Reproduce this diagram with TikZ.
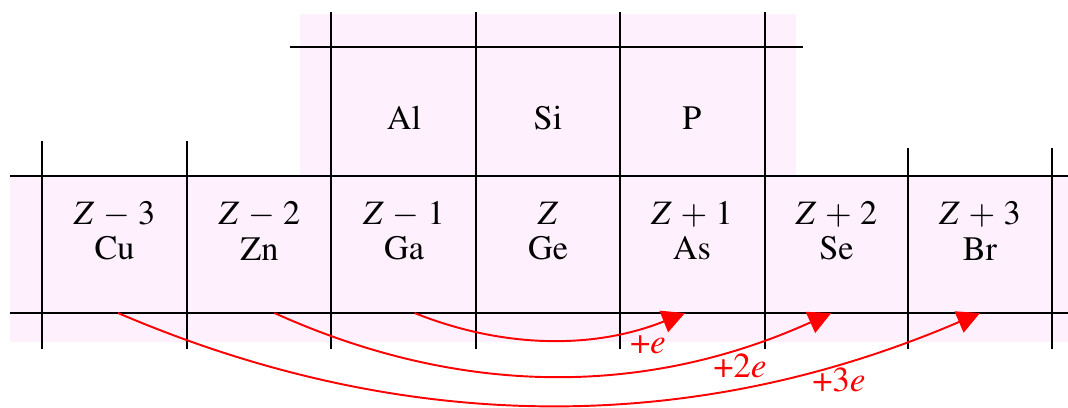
\documentclass[tikz,border=0pt]{standalone}
\usepackage[T1]{fontenc}
\usepackage{mathptmx}
\usetikzlibrary{arrows.meta}
\definecolor{cellpink}{RGB}{254,240,252}

\begin{document}
\begin{tikzpicture}[x=0.02cm, y=-0.02cm,
    grid/.style={line width=1.1pt, black},
    elem/.style={align=center, font=\fontsize{19.5}{20}\selectfont, inner sep=0pt},
    transfer/.style={red, line width=1.1pt, -{Triangle[length=13pt, width=13pt]}},
    charge/.style={red, font=\fontsize{20}{22}\selectfont, inner sep=0pt}]
    \useasboundingbox (0,0) rectangle (1068,407);

    % 背景
    \fill[cellpink] (300,14) rectangle (796,176);
    \fill[cellpink] (10,176) rectangle (1068,342);

    % 网格线
    \draw[grid] (290,47) -- (803,47);
    \draw[grid] (10,176) -- (1068,176);
    \draw[grid] (10,313) -- (1068,313);
    \foreach \x in {42,187}
        \draw[grid] (\x,141) -- (\x,349);
    \foreach \x in {331,476,620,765}
        \draw[grid] (\x,12) -- (\x,349);
    \foreach \x in {908,1052}
        \draw[grid] (\x,148) -- (\x,349);

    % 上一周期
    \node[elem] (al) at (404,118) {Al};
    \node[elem] (si) at (548,118) {Si};
    \node[elem] (p)  at (692,118) {P};

    % 本周期
    \node[elem] (cu) at (114.5,231) {$Z\,-\,3$\\Cu};
    \node[elem] (zn) at (259.5,231) {$Z\,-\,2$\\Zn};
    \node[elem] (ga) at (404,231)   {$Z\,-\,1$\\Ga};
    \node[elem] (ge) at (548,231)   {$Z$\\Ge};
    \node[elem] (as) at (692,231)   {$Z\,+\,1$\\As};
    \node[elem] (se) at (836.5,231) {$Z\,+\,2$\\Se};
    \node[elem] (br) at (980,231)   {$Z\,+\,3$\\Br};

    \coordinate (base) at (0,313);

    % 电子转移
    \draw[transfer] ([xshift=6pt]ga |- base) .. controls +(90,36) and +(-90,36) .. ([xshift=-4pt]as |- base);
    \draw[transfer] ([xshift=8.5pt]zn |- base) .. controls +(186,84) and +(-186,84) .. ([xshift=-3pt]se |- base);
    \draw[transfer] ([xshift=2pt]cu |- base) .. controls +(287,123) and +(-287,123) .. (br |- base);

    \node[charge] (q1) at (648,345) {+\textit{e}};
    \node[charge] (q2) at (740,366) {+2\textit{e}};
    \node[charge] (q3) at (839,380) {+3\textit{e}};
\end{tikzpicture}
\end{document}
